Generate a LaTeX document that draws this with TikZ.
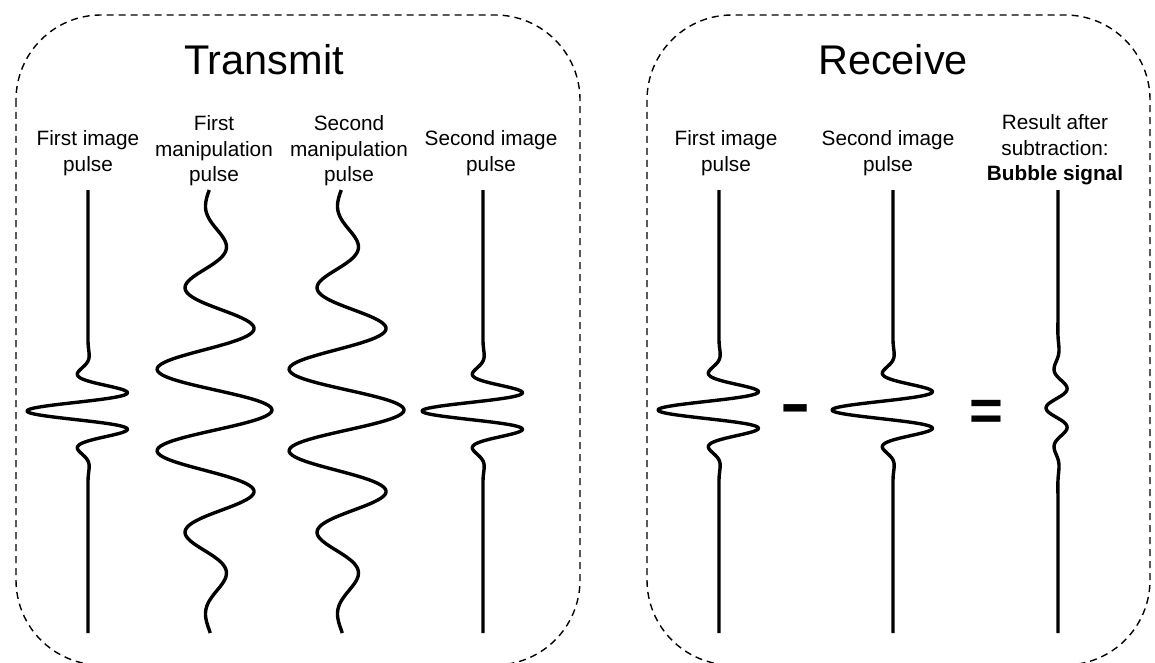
\documentclass[tikz,border=0pt]{standalone}
\usepackage{graphicx}
\usepackage{fontspec}
\setmainfont{Liberation Sans}
\begin{document}
\begin{tikzpicture}[x=1pt,y=-1pt]
\tikzset{
  frame/.style={draw=black, line width=1.4pt, dash pattern=on 7pt off 5pt, rounded corners=85pt},
  wave/.style={draw=black, line width=3.4pt, line join=round},
  lbl/.style={font=\fontsize{20.75}{25.5}\selectfont, align=center, inner sep=0pt},
  ttl/.style={font=\fontsize{41.5}{48}\selectfont, inner sep=0pt, anchor=base},
  opminus/.style={font=\bfseries\fontsize{47}{50}\selectfont, inner sep=0pt},
  opeq/.style={font=\bfseries\fontsize{58}{60}\selectfont, inner sep=0pt}
}
\useasboundingbox (0,0) rectangle (1155,663);
% frames
\draw[frame] (16,15) rectangle (580,665);
\draw[frame] (647,15) rectangle (1150,665);
% titles
\node[ttl] (ttx) at (264,75) {Transmit};
\node[ttl] (trx) at (893,75) {Receive};
% labels
\node[lbl] (l1) at (88,153) {First image\\pulse};
\node[lbl] (l2) at (214,151) {First\\manipulation\\pulse};
\node[lbl] (l3) at (349,151) {Second\\manipulation\\pulse};
\node[lbl] (l4) at (491,153) {Second image\\pulse};
\node[lbl] (r1) at (726,153) {First image\\pulse};
\node[lbl] (r2) at (888,153) {Second image\\pulse};
\node[lbl] (r3) at (1055,150) {Result after\\subtraction:\\\textbf{Bubble signal}};
% transmit waves
\draw[wave] (88,190) -- plot[domain=341:481,samples=141,smooth] ({88-61*exp(-((\x-411)/29)^2)*cos((\x-411)*9)},\x) -- (88,633);
\draw[wave] plot[domain=190:633,samples=250,smooth] ({212+60*exp(-((\x-410)/138)^2)*cos((\x-410)*4.3373)},\x);
\draw[wave] plot[domain=190:633,samples=250,smooth] ({344+60*exp(-((\x-410)/138)^2)*cos((\x-410)*4.3373)},\x);
\draw[wave] (483,190) -- plot[domain=341:481,samples=141,smooth] ({483-61*exp(-((\x-411)/29)^2)*cos((\x-411)*9)},\x) -- (483,633);
% receive waves
\draw[wave] (719,190) -- plot[domain=340:480,samples=141,smooth] ({719-61*exp(-((\x-410)/29)^2)*cos((\x-410)*9)},\x) -- (719,633);
\draw[wave] (893,190) -- plot[domain=340:480,samples=141,smooth] ({893-61*exp(-((\x-410)/29)^2)*cos((\x-410)*9)},\x) -- (893,633);
\draw[wave] (1058,190) -- plot[domain=300:516,samples=150,smooth] ({1058-12*exp(-((\x-408)/38)^2)*cos((\x-408)*8.7805)},\x) -- (1058,633);
% operators
\node[opminus] (minus) at (796,417) {\scalebox{1}[1.6]{–}};
\node[opeq] (equals) at (986,415) {=};
\end{tikzpicture}
\end{document}
